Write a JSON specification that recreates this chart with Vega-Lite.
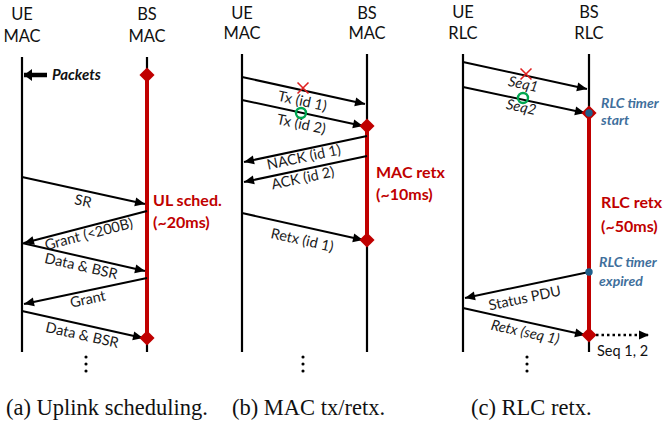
{
  "$schema": "https://vega.github.io/schema/vega-lite/v6.json",
  "width": 664,
  "height": 435,
  "padding": 0,
  "autosize": {"type": "none"},
  "background": "white",
  "config": {"view": {"stroke": null}},
  "datasets": {
    "lines": [
      {"x": 22, "y1": 57, "y2": 352, "kind": "life"},
      {"x": 147, "y1": 57, "y2": 352, "kind": "life"},
      {"x": 147, "y1": 75, "y2": 338, "kind": "red"},
      {"x": 242, "y1": 54, "y2": 352, "kind": "life"},
      {"x": 367, "y1": 54, "y2": 352, "kind": "life"},
      {"x": 367, "y1": 126, "y2": 240, "kind": "red"},
      {"x": 463, "y1": 54, "y2": 352, "kind": "life"},
      {"x": 589, "y1": 54, "y2": 352, "kind": "life"},
      {"x": 589, "y1": 113, "y2": 335, "kind": "red"}
    ],
    "arrows": [
      {"x1": 22, "y1": 177, "x2": 145, "y2": 204, "label": "SR", "lx": 83, "ly": 202, "kind": "msg"},
      {"x1": 147, "y1": 211, "x2": 24, "y2": 243, "label": "Grant (<200B)", "lx": 89, "ly": 235, "kind": "msg"},
      {"x1": 22, "y1": 243, "x2": 145, "y2": 271, "label": "Data & BSR", "lx": 81, "ly": 267, "kind": "msg"},
      {"x1": 147, "y1": 278, "x2": 24, "y2": 304, "label": "Grant", "lx": 88, "ly": 300, "kind": "msg"},
      {"x1": 22, "y1": 311, "x2": 143, "y2": 338, "label": "Data & BSR", "lx": 82, "ly": 336, "kind": "msg"},
      {"x1": 242, "y1": 77, "x2": 365, "y2": 104, "label": "Tx (id 1)", "lx": 302, "ly": 102, "kind": "msg"},
      {"x1": 242, "y1": 100, "x2": 363, "y2": 126, "label": "Tx (id 2)", "lx": 301, "ly": 125, "kind": "msg"},
      {"x1": 367, "y1": 136, "x2": 244, "y2": 162, "label": "NACK (id 1)", "lx": 304, "ly": 158, "kind": "msg"},
      {"x1": 367, "y1": 156, "x2": 244, "y2": 182, "label": "ACK (id 2)", "lx": 303, "ly": 179, "kind": "msg"},
      {"x1": 242, "y1": 213, "x2": 363, "y2": 240, "label": "Retx (id 1)", "lx": 302, "ly": 241, "kind": "msg"},
      {"x1": 463, "y1": 62, "x2": 587, "y2": 89, "label": "Seq1", "lx": 523, "ly": 85, "kind": "msg"},
      {"x1": 463, "y1": 87, "x2": 585, "y2": 113, "label": "Seq2", "lx": 521, "ly": 108, "kind": "msg"},
      {"x1": 589, "y1": 272, "x2": 465, "y2": 298, "label": "Status PDU", "lx": 525, "ly": 299, "kind": "msg"},
      {"x1": 463, "y1": 308, "x2": 585, "y2": 335, "label": "Retx (seq 1)", "lx": 525, "ly": 333, "kind": "msg"},
      {"x1": 596, "y1": 335, "x2": 649, "y2": 335, "label": "", "lx": 620, "ly": 335, "kind": "dot"},
      {"x1": 47, "y1": 75, "x2": 24, "y2": 75, "label": "", "lx": 35, "ly": 75, "kind": "pkt"}
    ],
    "marks": [
      {"x": 147, "y": 75, "kind": "diamond"},
      {"x": 147, "y": 338, "kind": "diamond"},
      {"x": 367, "y": 126, "kind": "diamond"},
      {"x": 367, "y": 240, "kind": "diamond"},
      {"x": 589, "y": 113, "kind": "diamond"},
      {"x": 589, "y": 335, "kind": "diamond"},
      {"x": 303, "y": 88, "kind": "lost"},
      {"x": 526, "y": 74, "kind": "lost"},
      {"x": 301, "y": 113, "kind": "ok"},
      {"x": 523, "y": 98, "kind": "ok"},
      {"x": 589, "y": 113, "kind": "timer"},
      {"x": 589, "y": 272, "kind": "timer"},
      {"x": 86, "y": 357, "kind": "ellipsis"},
      {"x": 86, "y": 364, "kind": "ellipsis"},
      {"x": 86, "y": 371, "kind": "ellipsis"},
      {"x": 303, "y": 357, "kind": "ellipsis"},
      {"x": 303, "y": 364, "kind": "ellipsis"},
      {"x": 303, "y": 371, "kind": "ellipsis"},
      {"x": 527, "y": 357, "kind": "ellipsis"},
      {"x": 527, "y": 364, "kind": "ellipsis"},
      {"x": 527, "y": 371, "kind": "ellipsis"}
    ],
    "texts": [
      {"x": 22, "y": 15, "text": "UE", "kind": "head"},
      {"x": 22, "y": 37, "text": "MAC", "kind": "head"},
      {"x": 147, "y": 15, "text": "BS", "kind": "head"},
      {"x": 147, "y": 37, "text": "MAC", "kind": "head"},
      {"x": 242, "y": 14, "text": "UE", "kind": "head"},
      {"x": 242, "y": 34, "text": "MAC", "kind": "head"},
      {"x": 367, "y": 14, "text": "BS", "kind": "head"},
      {"x": 367, "y": 34, "text": "MAC", "kind": "head"},
      {"x": 463, "y": 13, "text": "UE", "kind": "head"},
      {"x": 463, "y": 34, "text": "RLC", "kind": "head"},
      {"x": 589, "y": 13, "text": "BS", "kind": "head"},
      {"x": 589, "y": 34, "text": "RLC", "kind": "head"},
      {"x": 153, "y": 201, "text": "UL sched.", "kind": "red"},
      {"x": 153, "y": 223, "text": "(~20ms)", "kind": "red"},
      {"x": 376, "y": 173, "text": "MAC retx", "kind": "red"},
      {"x": 376, "y": 195, "text": "(~10ms)", "kind": "red"},
      {"x": 601, "y": 203, "text": "RLC retx", "kind": "red"},
      {"x": 601, "y": 227, "text": "(~50ms)", "kind": "red"},
      {"x": 601, "y": 104, "text": "RLC timer", "kind": "blue"},
      {"x": 601, "y": 121, "text": "start", "kind": "blue"},
      {"x": 599, "y": 263, "text": "RLC timer", "kind": "blue"},
      {"x": 599, "y": 282, "text": "expired", "kind": "blue"},
      {"x": 52, "y": 75, "text": "Packets", "kind": "packets"},
      {"x": 597, "y": 352, "text": "Seq 1, 2", "kind": "plain"},
      {"x": 6, "y": 408, "text": "(a) Uplink scheduling.", "kind": "caption"},
      {"x": 232, "y": 408, "text": "(b) MAC tx/retx.", "kind": "caption"},
      {"x": 471, "y": 408, "text": "(c) RLC retx.", "kind": "caption"}
    ]
  },
  "layer": [
    {
      "data": {"name": "lines"},
      "transform": [{"filter": "datum.kind == 'life'"}],
      "mark": {"type": "rule", "color": "#000000", "strokeWidth": 2.2},
      "encoding": {
        "x": {"field": "x", "type": "quantitative", "scale": {"domain": [0, 664], "nice": false, "zero": false}, "axis": null},
        "y": {"field": "y1", "type": "quantitative", "scale": {"domain": [0, 435], "nice": false, "zero": false, "reverse": true}, "axis": null},
        "y2": {"field": "y2"}
      }
    },
    {
      "data": {"name": "lines"},
      "transform": [{"filter": "datum.kind == 'red'"}],
      "mark": {"type": "rule", "color": "#c00000", "strokeWidth": 4},
      "encoding": {
        "x": {"field": "x", "type": "quantitative", "axis": null},
        "y": {"field": "y1", "type": "quantitative", "axis": null},
        "y2": {"field": "y2"}
      }
    },
    {
      "data": {"name": "arrows"},
      "transform": [{"filter": "datum.kind == 'msg'"}],
      "mark": {"type": "rule", "color": "#000000", "strokeWidth": 2},
      "encoding": {
        "x": {"field": "x1", "type": "quantitative", "axis": null},
        "y": {"field": "y1", "type": "quantitative", "axis": null},
        "x2": {"field": "x2"},
        "y2": {"field": "y2"}
      }
    },
    {
      "data": {"name": "arrows"},
      "transform": [{"filter": "datum.kind == 'pkt'"}],
      "mark": {"type": "rule", "color": "#000000", "strokeWidth": 4.5},
      "encoding": {
        "x": {"field": "x1", "type": "quantitative", "axis": null},
        "y": {"field": "y1", "type": "quantitative", "axis": null},
        "x2": {"field": "x2"},
        "y2": {"field": "y2"}
      }
    },
    {
      "data": {"name": "arrows"},
      "transform": [{"filter": "datum.kind == 'dot'"}],
      "mark": {"type": "rule", "color": "#000000", "strokeWidth": 2.5, "strokeDash": [2.5, 3]},
      "encoding": {
        "x": {"field": "x1", "type": "quantitative", "axis": null},
        "y": {"field": "y1", "type": "quantitative", "axis": null},
        "x2": {"field": "x2"},
        "y2": {"field": "y2"}
      }
    },
    {
      "data": {"name": "arrows"},
      "transform": [
        {"filter": "datum.kind == 'msg' || datum.kind == 'dot'"},
        {"calculate": "(atan2(datum.y2 - datum.y1, datum.x2 - datum.x1) * 180 / PI + 360) % 360", "as": "ang"}
      ],
      "mark": {"type": "point", "shape": "M0,0L-1,-0.45L-1,0.45Z", "filled": true, "color": "#000000", "opacity": 1, "size": 400, "strokeWidth": 0},
      "encoding": {
        "x": {"field": "x2", "type": "quantitative", "axis": null},
        "y": {"field": "y2", "type": "quantitative", "axis": null},
        "angle": {"field": "ang", "type": "quantitative", "scale": null}
      }
    },
    {
      "data": {"name": "arrows"},
      "transform": [
        {"filter": "datum.kind == 'pkt'"},
        {"calculate": "(atan2(datum.y2 - datum.y1, datum.x2 - datum.x1) * 180 / PI + 360) % 360", "as": "ang"}
      ],
      "mark": {"type": "point", "shape": "M0,0L-1,-0.75L-1,0.75Z", "filled": true, "color": "#000000", "opacity": 1, "size": 256, "strokeWidth": 0},
      "encoding": {
        "x": {"field": "x2", "type": "quantitative", "axis": null},
        "y": {"field": "y2", "type": "quantitative", "axis": null},
        "angle": {"field": "ang", "type": "quantitative", "scale": null}
      }
    },
    {
      "data": {"name": "arrows"},
      "transform": [
        {"filter": "datum.kind == 'msg' && indexof(['Seq1', 'Seq2', 'Retx (seq 1)'], datum.label) < 0"},
        {"calculate": "atan2(datum.y2 - datum.y1, datum.x2 - datum.x1) * 180 / PI", "as": "ang"},
        {"calculate": "(datum.x2 < datum.x1 ? datum.ang + 180 : datum.ang + 360) % 360", "as": "tang"}
      ],
      "mark": {"type": "text", "font": "Lato", "fontSize": 14.5, "color": "#1a1a1a", "align": "center", "baseline": "middle"},
      "encoding": {
        "x": {"field": "lx", "type": "quantitative", "axis": null},
        "y": {"field": "ly", "type": "quantitative", "axis": null},
        "text": {"field": "label"},
        "angle": {"field": "tang", "type": "quantitative", "scale": null}
      }
    },
    {
      "data": {"name": "arrows"},
      "transform": [
        {"filter": "datum.kind == 'msg' && indexof(['Seq1', 'Seq2', 'Retx (seq 1)'], datum.label) >= 0"},
        {"calculate": "atan2(datum.y2 - datum.y1, datum.x2 - datum.x1) * 180 / PI", "as": "ang"},
        {"calculate": "(datum.x2 < datum.x1 ? datum.ang + 180 : datum.ang + 360) % 360", "as": "tang"}
      ],
      "mark": {"type": "text", "font": "Lato", "fontSize": 14.5, "fontStyle": "italic", "color": "#1a1a1a", "align": "center", "baseline": "middle"},
      "encoding": {
        "x": {"field": "lx", "type": "quantitative", "axis": null},
        "y": {"field": "ly", "type": "quantitative", "axis": null},
        "text": {"field": "label"},
        "angle": {"field": "tang", "type": "quantitative", "scale": null}
      }
    },
    {
      "data": {"name": "marks"},
      "transform": [{"filter": "datum.kind == 'diamond'"}],
      "mark": {"type": "point", "shape": "diamond", "filled": true, "color": "#c00000", "opacity": 1, "size": 230},
      "encoding": {
        "x": {"field": "x", "type": "quantitative", "axis": null},
        "y": {"field": "y", "type": "quantitative", "axis": null}
      }
    },
    {
      "data": {"name": "marks"},
      "transform": [{"filter": "datum.kind == 'lost'"}],
      "mark": {"type": "point", "shape": "M-1,-1L1,1M-1,1L1,-1", "filled": false, "color": "#e02020", "opacity": 1, "size": 120, "strokeWidth": 1.6},
      "encoding": {
        "x": {"field": "x", "type": "quantitative", "axis": null},
        "y": {"field": "y", "type": "quantitative", "axis": null}
      }
    },
    {
      "data": {"name": "marks"},
      "transform": [{"filter": "datum.kind == 'ok'"}],
      "mark": {"type": "point", "shape": "circle", "filled": false, "color": "#00a650", "opacity": 1, "size": 100, "strokeWidth": 2.4},
      "encoding": {
        "x": {"field": "x", "type": "quantitative", "axis": null},
        "y": {"field": "y", "type": "quantitative", "axis": null}
      }
    },
    {
      "data": {"name": "marks"},
      "transform": [{"filter": "datum.kind == 'timer'"}],
      "mark": {"type": "point", "shape": "circle", "filled": true, "color": "#1f5f8b", "opacity": 1, "size": 55},
      "encoding": {
        "x": {"field": "x", "type": "quantitative", "axis": null},
        "y": {"field": "y", "type": "quantitative", "axis": null}
      }
    },
    {
      "data": {"name": "marks"},
      "transform": [{"filter": "datum.kind == 'ellipsis'"}],
      "mark": {"type": "point", "shape": "circle", "filled": true, "color": "#000000", "opacity": 1, "size": 10},
      "encoding": {
        "x": {"field": "x", "type": "quantitative", "axis": null},
        "y": {"field": "y", "type": "quantitative", "axis": null}
      }
    },
    {
      "data": {"name": "texts"},
      "transform": [{"filter": "datum.kind == 'head'"}],
      "mark": {"type": "text", "font": "Lato", "fontSize": 16.5, "color": "#111111", "align": "center", "baseline": "middle"},
      "encoding": {
        "x": {"field": "x", "type": "quantitative", "axis": null},
        "y": {"field": "y", "type": "quantitative", "axis": null},
        "text": {"field": "text"}
      }
    },
    {
      "data": {"name": "texts"},
      "transform": [{"filter": "datum.kind == 'red'"}],
      "mark": {"type": "text", "font": "Lato", "fontSize": 16, "fontWeight": "bold", "color": "#c00000", "align": "left", "baseline": "middle"},
      "encoding": {
        "x": {"field": "x", "type": "quantitative", "axis": null},
        "y": {"field": "y", "type": "quantitative", "axis": null},
        "text": {"field": "text"}
      }
    },
    {
      "data": {"name": "texts"},
      "transform": [{"filter": "datum.kind == 'blue'"}],
      "mark": {"type": "text", "font": "Lato", "fontSize": 14, "fontWeight": "bold", "fontStyle": "italic", "color": "#3f6f9c", "align": "left", "baseline": "middle"},
      "encoding": {
        "x": {"field": "x", "type": "quantitative", "axis": null},
        "y": {"field": "y", "type": "quantitative", "axis": null},
        "text": {"field": "text"}
      }
    },
    {
      "data": {"name": "texts"},
      "transform": [{"filter": "datum.kind == 'packets'"}],
      "mark": {"type": "text", "font": "Lato", "fontSize": 15, "fontWeight": "bold", "fontStyle": "italic", "color": "#111111", "align": "left", "baseline": "middle"},
      "encoding": {
        "x": {"field": "x", "type": "quantitative", "axis": null},
        "y": {"field": "y", "type": "quantitative", "axis": null},
        "text": {"field": "text"}
      }
    },
    {
      "data": {"name": "texts"},
      "transform": [{"filter": "datum.kind == 'plain'"}],
      "mark": {"type": "text", "font": "Lato", "fontSize": 14.5, "color": "#111111", "align": "left", "baseline": "middle"},
      "encoding": {
        "x": {"field": "x", "type": "quantitative", "axis": null},
        "y": {"field": "y", "type": "quantitative", "axis": null},
        "text": {"field": "text"}
      }
    },
    {
      "data": {"name": "texts"},
      "transform": [{"filter": "datum.kind == 'caption'"}],
      "mark": {"type": "text", "font": "Liberation Serif", "fontSize": 22.5, "color": "#111111", "align": "left", "baseline": "middle"},
      "encoding": {
        "x": {"field": "x", "type": "quantitative", "axis": null},
        "y": {"field": "y", "type": "quantitative", "axis": null},
        "text": {"field": "text"}
      }
    }
  ]
}
